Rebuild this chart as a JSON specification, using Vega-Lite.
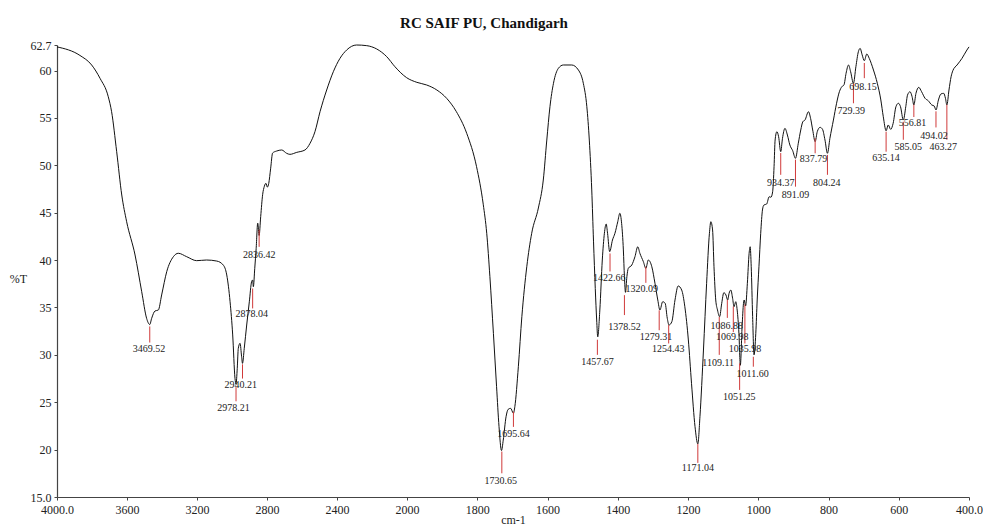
{
  "$schema": "https://vega.github.io/schema/vega-lite/v6.json",
  "width": 912,
  "height": 452,
  "autosize": "none",
  "padding": {"left": 57, "top": 45, "right": 14, "bottom": 33},
  "background": "white",
  "title": {"text": "RC SAIF PU, Chandigarh", "font": "Liberation Serif", "fontSize": 15, "fontWeight": "bold", "color": "#111", "anchor": "middle", "dx": -29, "dy": 22, "baseline": "alphabetic", "offset": 18},
  "config": {"view": {"stroke": null}},
  "datasets": {
    "spectrum": [
      {"wn":4000,"t":62.5},{"wn":3869,"t":61.6},{"wn":3802,"t":60.59},{"wn":3754,"t":59.18},{"wn":3707,"t":57.24},{"wn":3688,"t":55.66},{"wn":3659,"t":51.44},{"wn":3630,"t":46.87},{"wn":3602,"t":44.05},{"wn":3554,"t":40.54},{"wn":3516,"t":36.67},{"wn":3488,"t":33.86},{"wn":3470,"t":33.2},{"wn":3459,"t":33.86},{"wn":3440,"t":34.63},{"wn":3421,"t":34.73},{"wn":3402,"t":36.32},{"wn":3373,"t":38.78},{"wn":3335,"t":40.36},{"wn":3307,"t":40.72},{"wn":3259,"t":40.36},{"wn":3202,"t":39.94},{"wn":3145,"t":40.01},{"wn":3087,"t":39.9},{"wn":3050,"t":39.48},{"wn":3030,"t":38.43},{"wn":3011,"t":35.61},{"wn":2996,"t":32.1},{"wn":2983,"t":27.53},{"wn":2977,"t":26.9},{"wn":2970,"t":28.58},{"wn":2964,"t":30.69},{"wn":2954,"t":31.22},{"wn":2945,"t":29.8},{"wn":2940,"t":29.1},{"wn":2930,"t":30.69},{"wn":2916,"t":33.15},{"wn":2901,"t":35.6},{"wn":2888,"t":37.72},{"wn":2882,"t":37.9},{"wn":2878,"t":37.19},{"wn":2870,"t":39.13},{"wn":2862,"t":41.2},{"wn":2853,"t":43.9},{"wn":2845,"t":42.6},{"wn":2836,"t":44.6},{"wn":2825,"t":46.9},{"wn":2815,"t":47.8},{"wn":2806,"t":48.1},{"wn":2798,"t":47.7},{"wn":2790,"t":48.1},{"wn":2779,"t":49.7},{"wn":2768,"t":51.3},{"wn":2745,"t":51.51},{"wn":2716,"t":51.62},{"wn":2688,"t":51.27},{"wn":2669,"t":51.16},{"wn":2630,"t":51.37},{"wn":2583,"t":51.62},{"wn":2554,"t":52.33},{"wn":2526,"t":53.55},{"wn":2497,"t":55.66},{"wn":2459,"t":57.95},{"wn":2421,"t":59.88},{"wn":2383,"t":61.29},{"wn":2345,"t":62.17},{"wn":2288,"t":62.7},{"wn":2230,"t":62.63},{"wn":2173,"t":62.28},{"wn":2116,"t":61.47},{"wn":2069,"t":60.41},{"wn":2002,"t":59.25},{"wn":1972,"t":58.76},{"wn":1944,"t":58.48},{"wn":1915,"t":57.95},{"wn":1887,"t":57.07},{"wn":1860,"t":55.7},{"wn":1830,"t":53.38},{"wn":1802,"t":49.86},{"wn":1783,"t":45.9},{"wn":1773,"t":42.83},{"wn":1764,"t":38.25},{"wn":1754,"t":32.27},{"wn":1745,"t":26.64},{"wn":1738,"t":22.42},{"wn":1731,"t":19.9},{"wn":1726,"t":21.0},{"wn":1718,"t":23.47},{"wn":1712,"t":24.25},{"wn":1705,"t":24.36},{"wn":1697,"t":23.83},{"wn":1693,"t":24.53},{"wn":1683,"t":28.75},{"wn":1673,"t":34.03},{"wn":1659,"t":39.3},{"wn":1645,"t":42.83},{"wn":1626,"t":45.5},{"wn":1612,"t":48.45},{"wn":1602,"t":52.67},{"wn":1593,"t":56.19},{"wn":1583,"t":58.66},{"wn":1569,"t":60.24},{"wn":1555,"t":60.59},{"wn":1531,"t":60.59},{"wn":1512,"t":60.06},{"wn":1498,"t":58.66},{"wn":1488,"t":56.19},{"wn":1481,"t":52.67},{"wn":1474,"t":47.4},{"wn":1469,"t":42.0},{"wn":1464,"t":37.0},{"wn":1460,"t":33.68},{"wn":1457,"t":31.9},{"wn":1451,"t":34.73},{"wn":1444,"t":40.01},{"wn":1438,"t":42.83},{"wn":1433,"t":43.81},{"wn":1429,"t":42.83},{"wn":1423,"t":40.89},{"wn":1415,"t":42.12},{"wn":1408,"t":42.83},{"wn":1400,"t":44.05},{"wn":1394,"t":44.94},{"wn":1389,"t":43.88},{"wn":1384,"t":41.07},{"wn":1381,"t":38.25},{"wn":1378,"t":36.6},{"wn":1374,"t":38.25},{"wn":1370,"t":39.13},{"wn":1360,"t":39.48},{"wn":1351,"t":40.36},{"wn":1343,"t":41.41},{"wn":1337,"t":40.72},{"wn":1327,"t":39.83},{"wn":1320,"t":39.13},{"wn":1313,"t":40.01},{"wn":1303,"t":39.3},{"wn":1294,"t":37.55},{"wn":1286,"t":35.79},{"wn":1280,"t":34.73},{"wn":1272,"t":35.61},{"wn":1265,"t":35.44},{"wn":1259,"t":33.86},{"wn":1254,"t":33.15},{"wn":1246,"t":33.5},{"wn":1237,"t":35.79},{"wn":1228,"t":37.27},{"wn":1218,"t":36.84},{"wn":1209,"t":35.08},{"wn":1199,"t":31.57},{"wn":1190,"t":27.0},{"wn":1180,"t":22.42},{"wn":1172,"t":20.6},{"wn":1166,"t":23.47},{"wn":1156,"t":30.51},{"wn":1147,"t":37.55},{"wn":1139,"t":42.83},{"wn":1135,"t":44.05},{"wn":1130,"t":43.18},{"wn":1126,"t":39.3},{"wn":1121,"t":35.79},{"wn":1116,"t":34.73},{"wn":1110,"t":34.03},{"wn":1104,"t":35.44},{"wn":1098,"t":36.56},{"wn":1092,"t":36.32},{"wn":1087,"t":35.79},{"wn":1083,"t":36.5},{"wn":1078,"t":36.84},{"wn":1073,"t":35.97},{"wn":1069,"t":35.08},{"wn":1064,"t":35.61},{"wn":1060,"t":34.73},{"wn":1055,"t":32.27},{"wn":1051,"t":28.9},{"wn":1046,"t":32.97},{"wn":1042,"t":35.44},{"wn":1040,"t":35.79},{"wn":1036,"t":35.16},{"wn":1031,"t":37.55},{"wn":1026,"t":40.72},{"wn":1023,"t":41.41},{"wn":1020,"t":39.3},{"wn":1016,"t":34.03},{"wn":1012,"t":30.0},{"wn":1007,"t":32.27},{"wn":1003,"t":35.79},{"wn":998,"t":39.3},{"wn":993,"t":42.83},{"wn":988,"t":45.29},{"wn":984,"t":45.81},{"wn":976,"t":45.92},{"wn":969,"t":46.69},{"wn":964,"t":46.63},{"wn":959,"t":47.22},{"wn":955,"t":49.86},{"wn":952,"t":52.67},{"wn":947,"t":53.55},{"wn":942,"t":53.02},{"wn":936,"t":51.44},{"wn":931,"t":52.85},{"wn":924,"t":53.9},{"wn":917,"t":53.2},{"wn":910,"t":52.15},{"wn":902,"t":51.55},{"wn":894,"t":50.74},{"wn":886,"t":52.33},{"wn":879,"t":53.73},{"wn":873,"t":54.61},{"wn":867,"t":54.78},{"wn":857,"t":55.66},{"wn":851,"t":54.96},{"wn":845,"t":53.73},{"wn":838,"t":52.5},{"wn":832,"t":53.55},{"wn":824,"t":54.01},{"wn":817,"t":53.8},{"wn":810,"t":52.67},{"wn":803,"t":51.27},{"wn":796,"t":52.85},{"wn":786,"t":54.78},{"wn":777,"t":56.55},{"wn":769,"t":57.77},{"wn":762,"t":58.3},{"wn":756,"t":58.48},{"wn":750,"t":59.71},{"wn":743,"t":60.59},{"wn":737,"t":59.88},{"wn":729,"t":58.66},{"wn":722,"t":60.41},{"wn":715,"t":61.99},{"wn":710,"t":62.34},{"wn":704,"t":61.64},{"wn":698,"t":61.04},{"wn":691,"t":61.75},{"wn":684,"t":61.29},{"wn":672,"t":60.06},{"wn":661,"t":58.66},{"wn":651,"t":56.9},{"wn":644,"t":55.13},{"wn":636,"t":53.65},{"wn":630,"t":54.26},{"wn":623,"t":53.8},{"wn":616,"t":54.43},{"wn":608,"t":56.19},{"wn":601,"t":56.55},{"wn":595,"t":56.19},{"wn":587,"t":54.78},{"wn":580,"t":56.19},{"wn":575,"t":57.42},{"wn":568,"t":57.77},{"wn":562,"t":57.24},{"wn":557,"t":56.37},{"wn":551,"t":57.6},{"wn":543,"t":58.23},{"wn":535,"t":57.77},{"wn":525,"t":57.07},{"wn":516,"t":56.82},{"wn":506,"t":56.37},{"wn":499,"t":56.26},{"wn":494,"t":55.84},{"wn":487,"t":56.9},{"wn":480,"t":57.53},{"wn":472,"t":57.6},{"wn":467,"t":57.07},{"wn":463,"t":56.37},{"wn":457,"t":57.95},{"wn":451,"t":59.35},{"wn":446,"t":59.99},{"wn":434,"t":60.59},{"wn":420,"t":61.29},{"wn":406,"t":62.17},{"wn":400,"t":62.5}
    ],
    "peaks": [
      {"wn":3470,"y1":33.0,"y2":31.3,"tx":3474,"ty":30.6,"label":"3469.52"},
      {"wn":2977,"y1":26.6,"y2":25.1,"tx":2992,"ty":24.36,"label":"2978.21"},
      {"wn":2940,"y1":29.0,"y2":27.5,"tx":2950,"ty":26.8,"label":"2940.21"},
      {"wn":2882,"y1":37.0,"y2":34.9,"tx":2887,"ty":34.3,"label":"2878.04"},
      {"wn":2845,"y1":43.2,"y2":41.4,"tx":2844,"ty":40.54,"label":"2836.42"},
      {"wn":1730,"y1":19.8,"y2":17.5,"tx":1733,"ty":16.7,"label":"1730.65"},
      {"wn":1697,"y1":24.0,"y2":22.4,"tx":1697,"ty":21.7,"label":"1695.64"},
      {"wn":1458,"y1":31.6,"y2":30.0,"tx":1458,"ty":29.28,"label":"1457.67"},
      {"wn":1422,"y1":40.7,"y2":38.8,"tx":1424,"ty":38.08,"label":"1422.66"},
      {"wn":1381,"y1":36.3,"y2":34.2,"tx":1381,"ty":32.97,"label":"1378.52"},
      {"wn":1320,"y1":39.3,"y2":37.6,"tx":1332,"ty":36.92,"label":"1320.09"},
      {"wn":1282,"y1":34.7,"y2":32.6,"tx":1291,"ty":31.85,"label":"1279.31"},
      {"wn":1255,"y1":33.15,"y2":31.2,"tx":1256,"ty":30.59,"label":"1254.43"},
      {"wn":1172,"y1":20.6,"y2":18.6,"tx":1172,"ty":18.1,"label":"1171.04"},
      {"wn":1111,"y1":34.0,"y2":30.0,"tx":1114,"ty":29.17,"label":"1109.11"},
      {"wn":1088,"y1":35.8,"y2":33.9,"tx":1090,"ty":33.05,"label":"1086.88"},
      {"wn":1071,"y1":35.1,"y2":32.4,"tx":1074,"ty":31.85,"label":"1069.98"},
      {"wn":1038,"y1":35.3,"y2":31.2,"tx":1038,"ty":30.59,"label":"1035.98"},
      {"wn":1014,"y1":29.8,"y2":28.75,"tx":1016,"ty":27.98,"label":"1011.60"},
      {"wn":1053,"y1":29.1,"y2":26.3,"tx":1054,"ty":25.58,"label":"1051.25"},
      {"wn":936,"y1":51.3,"y2":49.0,"tx":936,"ty":48.17,"label":"934.37"},
      {"wn":894,"y1":50.6,"y2":47.75,"tx":894,"ty":46.87,"label":"891.09"},
      {"wn":838,"y1":52.85,"y2":51.27,"tx":843,"ty":50.63,"label":"837.79"},
      {"wn":803,"y1":51.1,"y2":49.0,"tx":805,"ty":48.17,"label":"804.24"},
      {"wn":729,"y1":58.66,"y2":56.55,"tx":735,"ty":55.77,"label":"729.39"},
      {"wn":698,"y1":60.8,"y2":59.2,"tx":702,"ty":58.3,"label":"698.15"},
      {"wn":636,"y1":53.55,"y2":51.44,"tx":636,"ty":50.74,"label":"635.14"},
      {"wn":587,"y1":54.6,"y2":52.7,"tx":573,"ty":51.9,"label":"585.05"},
      {"wn":557,"y1":56.4,"y2":55.1,"tx":561,"ty":54.43,"label":"556.81"},
      {"wn":494,"y1":55.7,"y2":54.0,"tx":500,"ty":53.13,"label":"494.02"},
      {"wn":463,"y1":56.4,"y2":52.7,"tx":473,"ty":51.9,"label":"463.27"}
    ]
  },
  "layer": [
    {
      "data": {"name": "spectrum"},
      "mark": {"type": "line", "color": "#111", "strokeWidth": 1, "interpolate": "monotone"},
      "encoding": {
        "x": {
          "field": "wn", "type": "quantitative",
          "scale": {"domain": [4000, 2000, 400], "range": [0, 350, 912], "nice": false, "zero": false},
          "axis": {
            "title": "cm-1", "titleFont": "Liberation Serif", "titleFontSize": 12, "titleFontWeight": "normal", "titleColor": "#222",
            "titleX": 456, "titleY": 22, "titleBaseline": "middle",
            "values": [4000, 3600, 3200, 2800, 2400, 2000, 1800, 1600, 1400, 1200, 1000, 800, 600, 400],
            "format": "d",
            "labelExpr": "datum.value == 4000 ? '4000.0' : (datum.value == 400 ? '400.0' : datum.label)",
            "labelFont": "Liberation Serif", "labelFontSize": 12, "labelColor": "#222", "labelPadding": 4,
            "labelOverlap": false, "labelFlush": false,
            "tickSize": 3, "tickColor": "#444", "domainColor": "#444", "domainWidth": 1.2, "grid": false
          }
        },
        "y": {
          "field": "t", "type": "quantitative",
          "scale": {"domain": [15, 62.7], "nice": false, "zero": false},
          "axis": {
            "title": "%T", "titleFont": "Liberation Serif", "titleFontSize": 12, "titleFontWeight": "normal", "titleColor": "#222",
            "titleAngle": 0, "titleX": -39, "titleY": 233, "titleAlign": "center", "titleBaseline": "middle",
            "values": [15, 20, 25, 30, 35, 40, 45, 50, 55, 60, 62.7],
            "labelExpr": "datum.value == 15 ? '15.0' : (datum.value == 62.7 ? '62.7' : format(datum.value, 'd'))",
            "labelFont": "Liberation Serif", "labelFontSize": 12, "labelColor": "#222", "labelPadding": 3,
            "labelOverlap": false, "labelFlush": false,
            "tickSize": 3, "tickColor": "#444", "domainColor": "#444", "domainWidth": 1.2, "grid": false
          }
        }
      }
    },
    {
      "data": {"name": "peaks"},
      "mark": {"type": "rule", "color": "#d03a3a", "strokeWidth": 1},
      "encoding": {
        "x": {"field": "wn", "type": "quantitative"},
        "y": {"field": "y1", "type": "quantitative"},
        "y2": {"field": "y2"}
      }
    },
    {
      "data": {"name": "peaks"},
      "mark": {"type": "text", "font": "Liberation Serif", "fontSize": 10, "color": "#222", "align": "center", "baseline": "middle"},
      "encoding": {
        "x": {"field": "tx", "type": "quantitative"},
        "y": {"field": "ty", "type": "quantitative"},
        "text": {"field": "label"}
      }
    }
  ]
}
